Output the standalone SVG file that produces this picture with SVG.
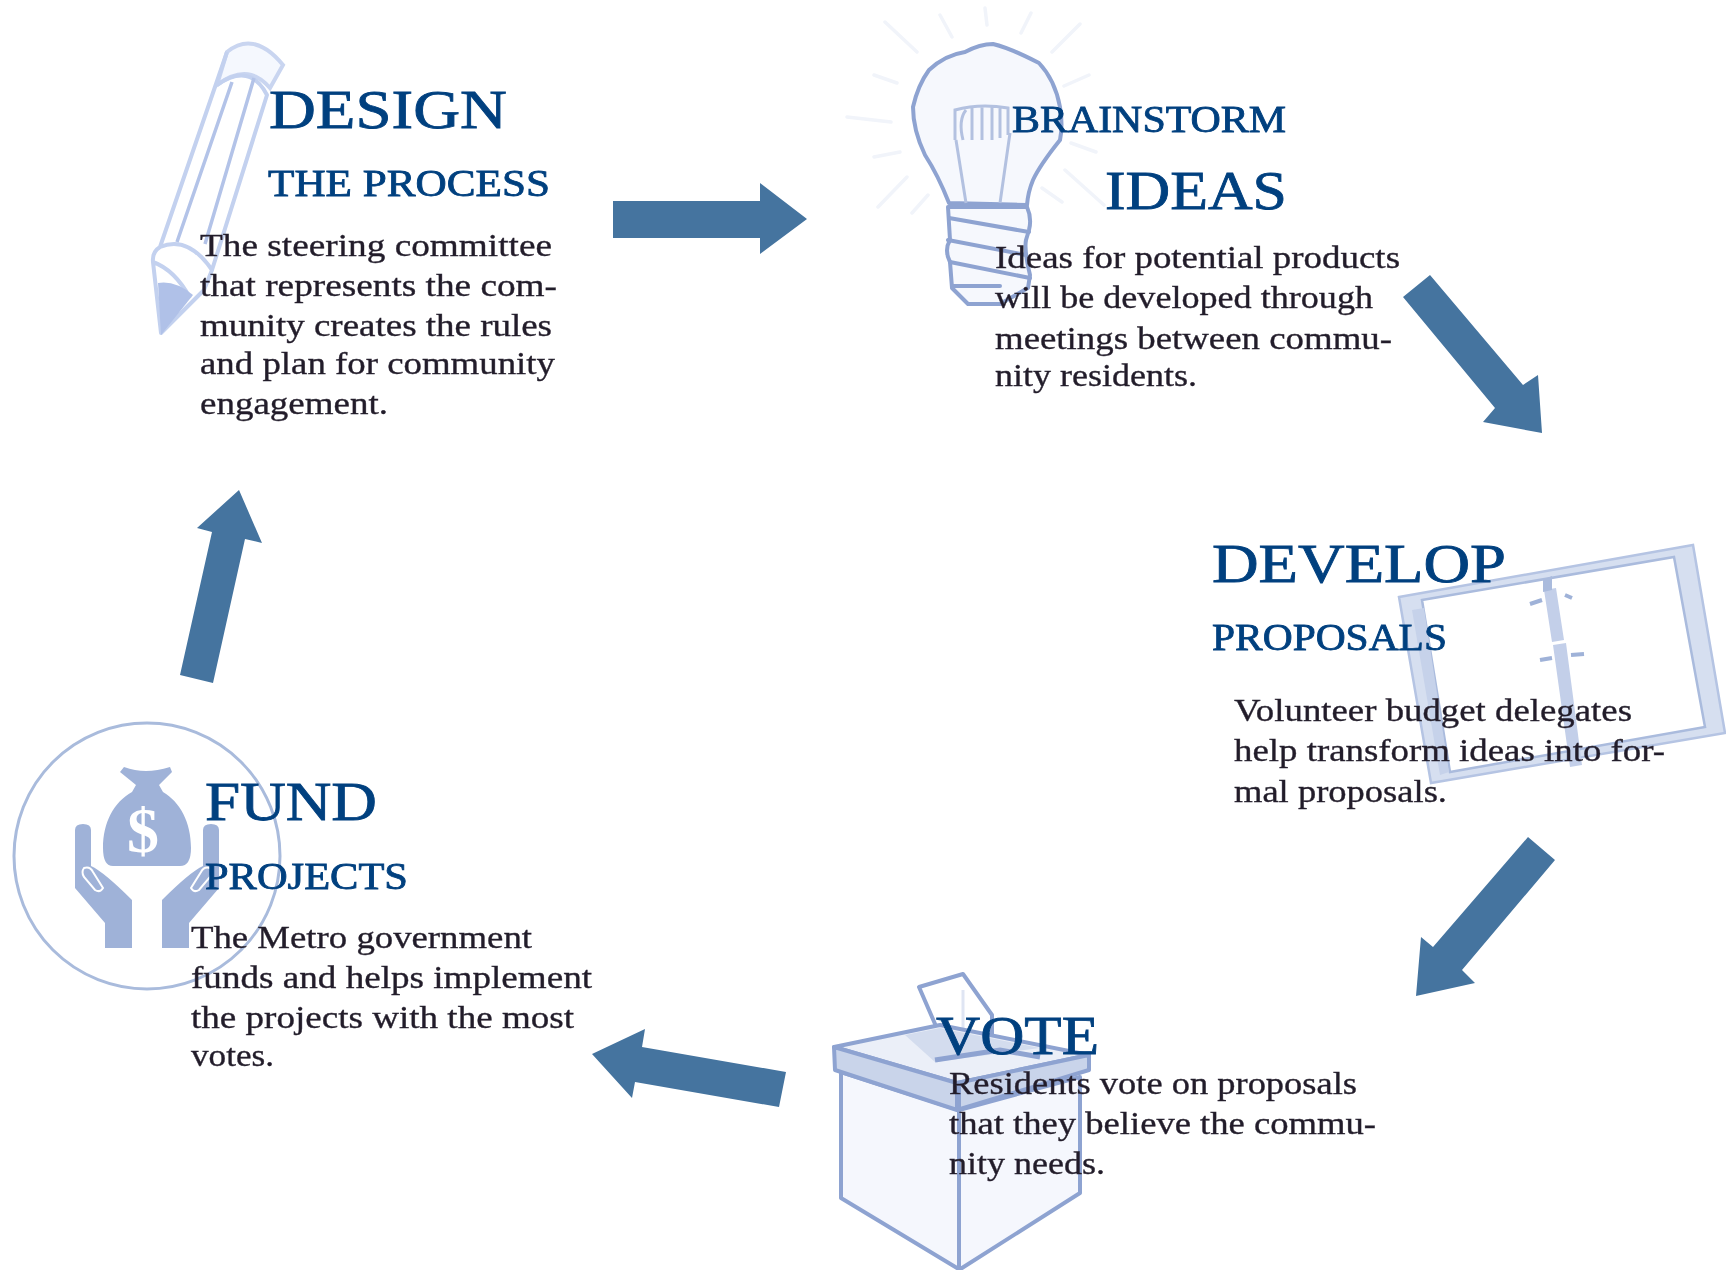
<svg xmlns="http://www.w3.org/2000/svg" width="1726" height="1270" viewBox="0 0 1726 1270">
<defs>
<filter id="soft" x="-5%" y="-5%" width="110%" height="110%"><feGaussianBlur stdDeviation="0.7"/></filter>
<filter id="softer" x="-5%" y="-5%" width="110%" height="110%"><feGaussianBlur stdDeviation="0.35"/></filter>
</defs>
<style>
text{font-family:"Liberation Serif","Times New Roman",serif}
.h{font-size:55px;fill:#05407f;stroke:#05407f;stroke-width:.8}
.s{font-size:37px;fill:#05407f;stroke:#05407f;stroke-width:.8}
.b{font-size:32px;fill:#241f2c;stroke:#241f2c;stroke-width:.35}
.arrow{fill:#45749f}
.ray{fill:none;stroke:#f1f4fa;stroke-width:3.5;stroke-linecap:round}
.ink{fill:none;stroke:#8ea3d1;stroke-width:4;stroke-linejoin:round;stroke-linecap:round}
.pen{fill:none;stroke:#c3d1ef;stroke-width:4;stroke-linejoin:round}
.fund{fill:#9fb2d8}
.icon{filter:url(#soft)}
.words{filter:url(#softer)}
</style>
<rect width="1726" height="1270" fill="#fff"/>
<g id="design">
<g class="icon">
<path d="M227 52Q254 30 283 65L270 88Q248 62 217 85Z" fill="#f5f8fe" stroke="#c9d5f0" stroke-width="4"/>
<path class="pen" d="M227 52L160 247Q152 252 153 262L161 333L204 290L212 270L267 95Q250 62 217 85M160 247Q188 235 212 270M153 262Q175 270 190 298"/>
<path d="M177 242L232 82M205 244L254 78" fill="none" stroke="#b3c3e8" stroke-width="3.5"/>
<path d="M158 283Q175 280 193 295L161 335Z" fill="#b0c1e8"/>
</g>
<g class="words">
<text class="h" x="269" y="128" textLength="238" lengthAdjust="spacingAndGlyphs">DESIGN</text>
<text class="s" x="268" y="196" textLength="282" lengthAdjust="spacingAndGlyphs">THE PROCESS</text>
<text class="b" x="200" y="256" textLength="352" lengthAdjust="spacingAndGlyphs">The steering committee</text>
<text class="b" x="200" y="296" textLength="357" lengthAdjust="spacingAndGlyphs">that represents the com-</text>
<text class="b" x="200" y="336" textLength="352" lengthAdjust="spacingAndGlyphs">munity creates the rules</text>
<text class="b" x="200" y="374" textLength="355" lengthAdjust="spacingAndGlyphs">and plan for community</text>
<text class="b" x="200" y="414" textLength="188" lengthAdjust="spacingAndGlyphs">engagement.</text>
</g>
</g>
<g id="brainstorm">
<g class="icon">
<path class="ray" d="M885 22L917 52M940 15L952 37M985 8L987 25M1031 13L1021 33M1080 24L1052 52M874 75L897 83M1089 75L1064 86M847 117L891 122M874 157L900 152M1071 143L1096 152M878 207L907 177M912 213L928 195M1042 188L1062 202M1065 170L1104 205"/>
<path class="ink" style="fill:#f6f8fd" d="M993 44Q1010 48 1039 63Q1055 80 1060 107Q1063 125 1060 140Q1040 165 1033 180Q1028 192 1027 205L949 203Q938 175 925 155Q913 130 913 107Q918 85 929 70Q945 55 965 52Q980 44 993 44Z"/>
<path d="M956 140L966 203M1010 133L1000 203" fill="none" stroke="#b3c1e0" stroke-width="3"/>
<path d="M955 140V110Q980 103 1008 108V135M963 140Q958 120 966 110M972 140V108M982 140V106M992 140V107M1000 138V108" fill="none" stroke="#b3c1e0" stroke-width="3"/>
<path class="ink" style="fill:#f6f8fd" d="M948 207H1027Q1032 218 1029 230L1026 240Q1024 250 1030 275L1028 288L1000 304H968L952 288L950 262Q944 250 950 240Z"/>
<path class="ink" d="M949 218L1029 232M948 240L1026 255M950 262L1030 278M953 286L1000 286"/>
</g>
<g class="words">
<text class="s" x="1012" y="132" textLength="274" lengthAdjust="spacingAndGlyphs">BRAINSTORM</text>
<text class="h" x="1105" y="209" textLength="182" lengthAdjust="spacingAndGlyphs">IDEAS</text>
<text class="b" x="995" y="268" textLength="405" lengthAdjust="spacingAndGlyphs">Ideas for potential products</text>
<text class="b" x="995" y="308" textLength="378" lengthAdjust="spacingAndGlyphs">will be developed through</text>
<text class="b" x="995" y="349" textLength="397" lengthAdjust="spacingAndGlyphs">meetings between commu-</text>
<text class="b" x="995" y="386" textLength="202" lengthAdjust="spacingAndGlyphs">nity residents.</text>
</g>
</g>
<g id="develop">
<g class="icon">
<path d="M1399 597L1693 545L1725 733L1431 783Z" fill="#d6dff0" stroke="#b5c4e3" stroke-width="2.5"/>
<path d="M1422 600L1674 557L1705 727L1450 772Z" fill="#fff" stroke="#aabbdd" stroke-width="2.5"/>
<path d="M1412 610L1424 608L1449 772L1440 775Z" fill="#c6d2ea"/>
<path d="M1544 590L1556 588L1564 640L1552 642ZM1553 645L1566 643L1582 765L1570 767Z" fill="#c3cfe9"/>
<path d="M1543 580L1552 576L1552 590L1543 592Z" fill="#aabbdd"/>
<path d="M1530 604L1542 600M1565 595L1572 598M1540 660L1552 658M1571 655L1584 654" fill="none" stroke="#9fb2d8" stroke-width="4"/>
</g>
<g class="words">
<text class="h" x="1212" y="582" textLength="294" lengthAdjust="spacingAndGlyphs">DEVELOP</text>
<text class="s" x="1212" y="650" textLength="235" lengthAdjust="spacingAndGlyphs">PROPOSALS</text>
<text class="b" x="1234" y="721" textLength="398" lengthAdjust="spacingAndGlyphs">Volunteer budget delegates</text>
<text class="b" x="1234" y="761" textLength="431" lengthAdjust="spacingAndGlyphs">help transform ideas into for-</text>
<text class="b" x="1234" y="802" textLength="213" lengthAdjust="spacingAndGlyphs">mal proposals.</text>
</g>
</g>
<g id="vote">
<g class="icon">
<path class="ink" style="fill:#fff" d="M919 987L963 974L992 1015L992 1040L942 1040Z"/>
<path d="M963 990V1030" stroke="#dfe5f3" stroke-width="3"/>
<path class="ink" style="fill:#f5f7fd" d="M841 1072V1198L957 1268H962L1080 1193V1077L959 1110Z"/>
<path class="ink" style="fill:#ebeff8" d="M834 1047L940 1025L1089 1055L957 1083Z"/>
<path d="M905 1035L940 1028L1040 1048L935 1062Z" fill="#d3dcee"/>
<path class="ink" style="fill:#c9d4ea" d="M834 1047L957 1083V1110L835 1070ZM1089 1055L957 1083V1110L1089 1070Z"/>
<path d="M935 1060L1000 1050L1040 1057" fill="none" stroke="#8ea3d1" stroke-width="5"/>
<path class="ink" d="M959 1083V1268"/>
</g>
<g class="words">
<text class="h" x="936" y="1054" textLength="163" lengthAdjust="spacingAndGlyphs">VOTE</text>
<text class="b" x="949" y="1094" textLength="408" lengthAdjust="spacingAndGlyphs">Residents vote on proposals</text>
<text class="b" x="949" y="1134" textLength="427" lengthAdjust="spacingAndGlyphs">that they believe the commu-</text>
<text class="b" x="949" y="1174" textLength="156" lengthAdjust="spacingAndGlyphs">nity needs.</text>
</g>
</g>
<g id="fund">
<g class="icon">
<circle cx="147" cy="856" r="133" fill="#fff" stroke="#a9bbdc" stroke-width="3"/>
<path class="fund" d="M124 767Q135 771 146 771Q157 771 170 767L172 772L159 785L163 792C180 802 191 822 191 848Q191 866 180 866H113Q103 866 103 848C103 822 114 802 132 792L136 785L120 772Z"/>
<text x="143" y="852" font-size="64" font-weight="bold" fill="#fff" text-anchor="middle">$</text>
<path class="fund" d="M75 830Q75 824 83 824Q91 824 91 830V866Q104 872 132 900V948H105V923L75 888ZM219 830Q219 824 211 824Q203 824 203 830V866Q190 872 162 900V948H189V923L219 888Z"/>
<path d="M84 868Q90 866 93 872L103 888Q100 893 95 890L84 877Q81 872 84 868ZM210 868Q204 866 201 872L191 888Q194 893 199 890L210 877Q213 872 210 868Z" fill="none" stroke="#fff" stroke-width="2"/>
</g>
<g class="words">
<text class="h" x="205" y="820" textLength="172" lengthAdjust="spacingAndGlyphs">FUND</text>
<text class="s" x="205" y="889" textLength="203" lengthAdjust="spacingAndGlyphs">PROJECTS</text>
<text class="b" x="191" y="948" textLength="341" lengthAdjust="spacingAndGlyphs">The Metro government</text>
<text class="b" x="191" y="988" textLength="401" lengthAdjust="spacingAndGlyphs">funds and helps implement</text>
<text class="b" x="191" y="1028" textLength="383" lengthAdjust="spacingAndGlyphs">the projects with the most</text>
<text class="b" x="191" y="1066" textLength="83" lengthAdjust="spacingAndGlyphs">votes.</text>
</g>
</g>
<g id="connectors">
<path class="arrow" d="M613 201H760V183L807 219L760 254V238H613Z"/>
<path class="arrow" d="M1430 275L1403 297L1495 408L1483 422L1542 433L1538 375L1523 385Z"/>
<path class="arrow" d="M1528 837L1555 860L1462 970L1475 983L1416 996L1421 937L1433 947Z"/>
<path class="arrow" d="M786 1072L779 1107L635 1082L632 1098L592 1054L645 1029L642 1047Z"/>
<path class="arrow" d="M180 675L213 683L245 539L262 543L239 490L197 528L212 532Z"/>
</g>
</svg>
